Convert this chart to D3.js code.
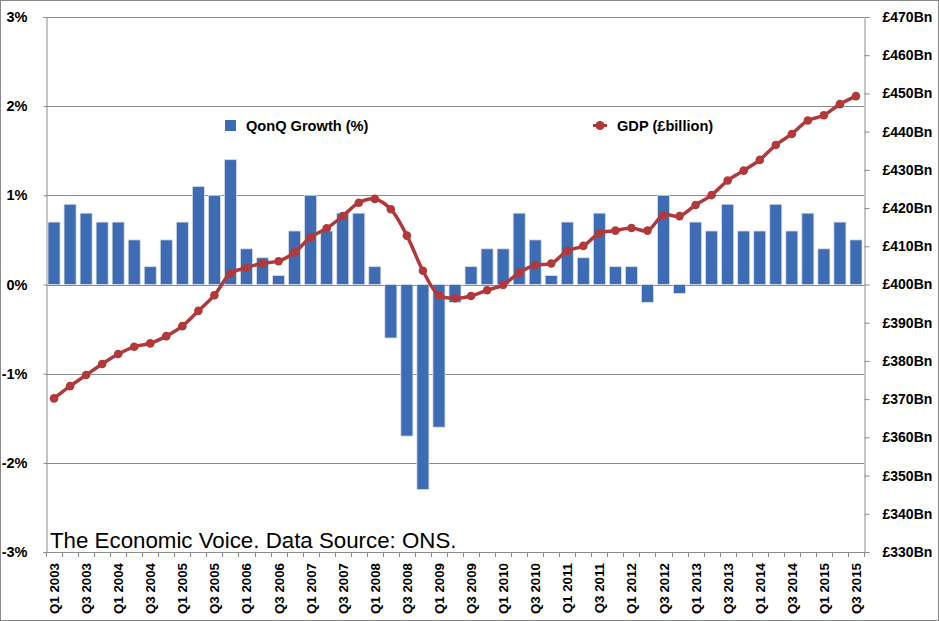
<!DOCTYPE html>
<html>
<head>
<meta charset="utf-8">
<script src="https://cdn.jsdelivr.net/npm/d3@7"></script>
<style>
  html, body { margin: 0; padding: 0; background: #fff; }
  svg { display: block; }
  text { font-family: "Liberation Sans", Arial, Helvetica, sans-serif; }
</style>
</head>
<body>
<svg id="chart" width="939" height="621"></svg>
<script>
const quarters = [];
for (let y = 2003; y <= 2015; y++) {
  for (let q = 1; q <= 4; q++) {
    if (y === 2015 && q === 4) break;
    quarters.push("Q" + q + " " + y);
  }
}
const growth = [
  0.7, 0.9, 0.8, 0.7,
  0.7, 0.5, 0.2, 0.5,
  0.7, 1.1, 1.0, 1.4,
  0.4, 0.3, 0.1, 0.6,
  1.0, 0.6, 0.8, 0.8,
  0.2, -0.6, -1.7, -2.3,
  -1.6, -0.2, 0.2, 0.4,
  0.4, 0.8, 0.5, 0.1,
  0.7, 0.3, 0.8, 0.2,
  0.2, -0.2, 1.0, -0.1,
  0.7, 0.6, 0.9, 0.6,
  0.6, 0.9, 0.6, 0.8,
  0.4, 0.7, 0.5
];
const gdp = [
  370.2, 373.4, 376.3, 379.2,
  381.8, 383.7, 384.6, 386.5,
  389.1, 393.1, 397.2, 402.9,
  404.4, 405.6, 406.1, 408.4,
  412.4, 414.7, 417.9, 421.4,
  422.4, 419.7, 412.8, 403.6,
  397.2, 396.4, 397.0, 398.5,
  399.9, 403.1, 405.1, 405.5,
  408.8, 410.1, 413.4, 414.1,
  414.8, 414.1, 418.2, 417.9,
  420.8, 423.4, 427.2, 429.8,
  432.6, 436.5, 439.4, 442.9,
  444.3, 447.2, 449.3
];
const leftTicks = [-3, -2, -1, 0, 1, 2, 3];
const rightTicks = [330, 340, 350, 360, 370, 380, 390, 400, 410, 420, 430, 440, 450, 460, 470];
const seriesNames = ["QonQ Growth (%)", "GDP (£billion)"];
const credit = "The Economic Voice. Data Source: ONS.";

const barColor = "#3e6cb4";
const lineColor = "#b2383a";
const gridColor = "#8a8a8a";

const svg = d3.select("#chart");
const m = { left: 46, right: 864, top: 17, bottom: 552 };

// outer frame
svg.append("rect").attr("x", 0.5).attr("y", 0.5).attr("width", 938).attr("height", 620)
  .attr("fill", "#fff").attr("stroke", "#8a8a8a").attr("stroke-width", 1);

const x = d3.scaleBand().domain(quarters).range([m.left, m.right]).paddingInner(0.25).paddingOuter(0.125);
const xStep = d3.scaleBand().domain(quarters).range([m.left, m.right]);
const yL = d3.scaleLinear().domain([-3, 3]).range([m.bottom, m.top]);
const yR = d3.scaleLinear().domain([330, 470]).range([m.bottom, m.top]);

// gridlines
svg.append("g").selectAll("line").data(leftTicks).join("line")
  .attr("x1", m.left).attr("x2", m.right)
  .attr("y1", d => Math.round(yL(d)) + 0.5).attr("y2", d => Math.round(yL(d)) + 0.5)
  .attr("stroke", gridColor).attr("stroke-width", 1);

// left axis
const gL = svg.append("g").attr("transform", `translate(${m.left + 0.5},0)`)
  .call(d3.axisLeft(yL).tickValues(leftTicks).tickSize(3).tickPadding(16).tickFormat(d => d + "%"));
gL.select(".domain").attr("stroke", gridColor);
gL.selectAll(".tick line").attr("stroke", gridColor);
gL.selectAll("text").attr("font-size", 14.5).attr("font-weight", "bold").attr("fill", "#000")
  .attr("font-family", "'Liberation Sans', Arial, sans-serif");

// right axis
const gR = svg.append("g").attr("transform", `translate(${m.right + 0.5},0)`)
  .call(d3.axisRight(yR).tickValues(rightTicks).tickSize(5).tickPadding(13).tickFormat(d => "£" + d + "Bn"));
gR.select(".domain").attr("stroke", gridColor);
gR.selectAll(".tick line").attr("stroke", gridColor);
gR.selectAll("text").attr("font-size", 14).attr("font-weight", "bold").attr("fill", "#000")
  .attr("font-family", "'Liberation Sans', Arial, sans-serif");

// bottom axis ticks at category boundaries
const boundaries = quarters.map(q => xStep(q)).concat([m.right]);
svg.append("g").selectAll("line").data(boundaries).join("line")
  .attr("x1", d => Math.round(d) + 0.5).attr("x2", d => Math.round(d) + 0.5)
  .attr("y1", m.bottom).attr("y2", m.bottom + 5)
  .attr("stroke", gridColor);

// x labels (every other)
svg.append("g").selectAll("text").data(quarters.filter((q, i) => i % 2 === 0)).join("text")
  .attr("transform", d => `translate(${xStep(d) + xStep.bandwidth() / 2 + 5},${m.bottom + 11}) rotate(-90)`)
  .attr("text-anchor", "end")
  .attr("font-size", 13.3).attr("font-weight", "bold").attr("fill", "#000")
  .text(d => d);

// bars
const barData = quarters.map((q, i) => ({ q, v: growth[i] }));
svg.append("g").selectAll("rect").data(barData).join("rect")
  .attr("x", d => x(d.q))
  .attr("width", x.bandwidth())
  .attr("y", d => yL(Math.max(0, d.v)))
  .attr("height", d => Math.abs(yL(d.v) - yL(0)))
  .attr("fill", barColor)
  .attr("stroke", "#d8dde6").attr("stroke-width", 0.8);

// GDP line
const lineData = quarters.map((q, i) => ({ q, v: gdp[i] }));
const line = d3.line().x(d => xStep(d.q) + xStep.bandwidth() / 2).y(d => yR(d.v)).curve(d3.curveCatmullRom.alpha(0.5));
svg.append("path").datum(lineData).attr("d", line)
  .attr("fill", "none").attr("stroke", lineColor).attr("stroke-width", 3.5).attr("stroke-linejoin", "round");
svg.append("g").selectAll("circle").data(lineData).join("circle")
  .attr("cx", d => xStep(d.q) + xStep.bandwidth() / 2)
  .attr("cy", d => yR(d.v))
  .attr("r", 4.3).attr("fill", lineColor);

// legend
svg.append("rect").attr("x", 225).attr("y", 120).attr("width", 11).attr("height", 11).attr("fill", barColor);
svg.append("text").attr("x", 246).attr("y", 131).attr("font-size", 14.6).attr("font-weight", "bold")
  .attr("fill", "#000").text(seriesNames[0]);
svg.append("line").attr("x1", 593).attr("x2", 607).attr("y1", 125.5).attr("y2", 125.5)
  .attr("stroke", lineColor).attr("stroke-width", 3);
svg.append("circle").attr("cx", 600).attr("cy", 125.5).attr("r", 4.5).attr("fill", lineColor);
svg.append("text").attr("x", 617).attr("y", 131).attr("font-size", 14.6).attr("font-weight", "bold")
  .attr("fill", "#000").text(seriesNames[1]);

// credit
svg.append("text").attr("x", 50).attr("y", 548).attr("font-size", 22.3).attr("fill", "#000")
  .text(credit);
</script>
</body>
</html>
